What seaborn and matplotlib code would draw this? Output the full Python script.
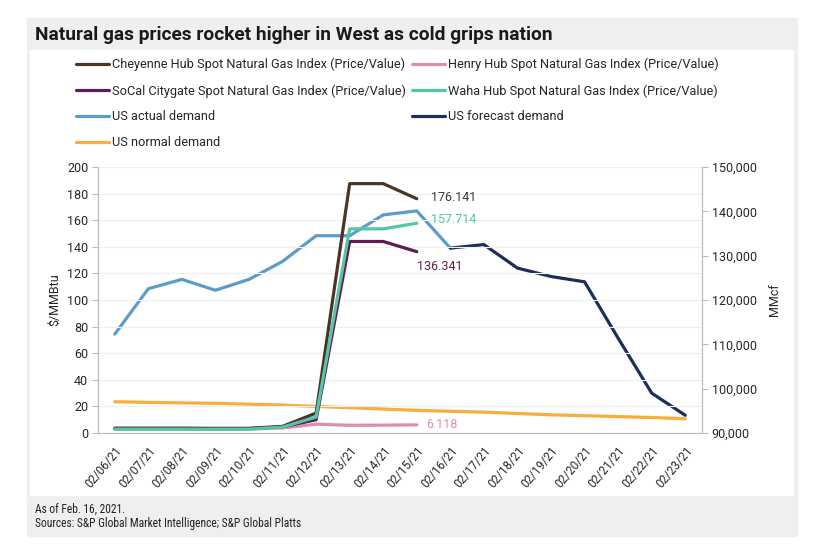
import numpy as np
import pandas as pd
import matplotlib
matplotlib.use("Agg")
import matplotlib.pyplot as plt
from matplotlib.patches import Rectangle
import seaborn as sns

sns.set_theme(style="white")
plt.rcParams['font.family'] = ['Roboto', 'DejaVu Sans']

# ===== Data =====
dates = ["02/06/21", "02/07/21", "02/08/21", "02/09/21", "02/10/21", "02/11/21",
         "02/12/21", "02/13/21", "02/14/21", "02/15/21", "02/16/21", "02/17/21",
         "02/18/21", "02/19/21", "02/20/21", "02/21/21", "02/22/21", "02/23/21"]

# prices, $/MMBtu (02/06 - 02/15)
cheyenne = [3.6, 3.6, 3.6, 3.5, 3.5, 5.0, 15.0, 187.5, 187.5, 176.141]
henry = [3.0, 3.0, 3.0, 3.0, 3.0, 3.8, 6.6, 5.8, 5.9, 6.118]
socal = [3.4, 3.4, 3.4, 3.3, 3.3, 4.6, 10.0, 144.0, 144.0, 136.341]
waha = [2.9, 2.9, 2.9, 2.9, 2.9, 4.4, 12.0, 153.5, 153.5, 157.714]

# demand, MMcf
actual_demand = [112300, 122550, 124650, 122200, 124650, 128700, 134500, 134500,
                 139200, 140100, 131700]
forecast_demand = [131700, 132500, 127200, 125300, 124100, 111400, 99000, 94000]
normal_demand = [97050, 96900, 96800, 96700, 96500, 96300, 96000, 95700, 95400,
                 95100, 94900, 94700, 94400, 94100, 93900, 93700, 93500, 93200]

colors = {
    "cheyenne": "#4b3526",
    "henry": "#dc8fa8",
    "socal": "#5e1d52",
    "waha": "#55c6a5",
    "actual": "#5b9cc9",
    "forecast": "#1d2e5a",
    "normal": "#f8ad3c",
}

n = len(dates)
pos = np.arange(n)
price_df = pd.DataFrame({"x": pos[:len(cheyenne)], "cheyenne": cheyenne,
                         "henry": henry, "socal": socal, "waha": waha})
actual_df = pd.DataFrame({"x": pos[:len(actual_demand)], "v": actual_demand})
forecast_df = pd.DataFrame({"x": pos[n - len(forecast_demand):], "v": forecast_demand})
normal_df = pd.DataFrame({"x": pos, "v": normal_demand})

# ===== Figure =====
fig = plt.figure(figsize=(8.4, 5.56), dpi=100)
W, H = 840, 556

def box(x0, y0, x1, y1, color):
    fig.patches.append(Rectangle((x0 / W, 1 - y1 / H), (x1 - x0) / W, (y1 - y0) / H,
                                 transform=fig.transFigure, color=color, zorder=-10))

box(27, 18, 797, 536, "#efefef")
box(30, 50, 793, 495, "white")

fig.text(35 / W, 1 - 35 / H, "Natural gas prices rocket higher in West as cold grips nation",
         fontsize=13.8, fontweight="bold", color="#1a1a1a", va="center", ha="left")
foot_font = ['Liberation Sans Narrow', 'Roboto Condensed', 'Roboto']
fig.text(35 / W, 1 - 509 / H, "As of Feb. 16, 2021.", fontsize=8.3, color="#222222",
         va="center", family=foot_font)
fig.text(35 / W, 1 - 523 / H, "Sources: S&P Global Market Intelligence; S&P Global Platts",
         fontsize=8.3, color="#222222", va="center", family=foot_font)

ax = fig.add_axes([98 / W, 1 - 433 / H, (702 - 98) / W, (433 - 167) / H])
ax2 = ax.twinx()
ax.set_zorder(ax2.get_zorder() + 1)
ax.patch.set_visible(False)

lw = 2.3
sns.lineplot(data=normal_df, x="x", y="v", ax=ax2, color=colors["normal"], lw=lw)
sns.lineplot(data=actual_df, x="x", y="v", ax=ax2, color=colors["actual"], lw=lw)
sns.lineplot(data=forecast_df, x="x", y="v", ax=ax2, color=colors["forecast"], lw=lw)
for key in ["henry", "socal", "cheyenne", "waha"]:
    sns.lineplot(data=price_df, x="x", y=key, ax=ax, color=colors[key], lw=lw)

# end labels
last = len(cheyenne) - 1
ax.annotate(f"{cheyenne[-1]:.3f}", (last, cheyenne[-1]), xytext=(10, 1),
            textcoords="offset points", color="#3a3a3a", fontsize=9, va="center")
ax.annotate(f"{waha[-1]:.3f}", (last, waha[-1]), xytext=(10, 3),
            textcoords="offset points", color=colors["waha"], fontsize=9, va="center")
ax.annotate(f"{socal[-1]:.3f}", (last, socal[-1]), xytext=(0, -11),
            textcoords="offset points", color=colors["socal"], fontsize=9, va="center")
ax.annotate(f"{henry[-1]:.3f}", (last, henry[-1]), xytext=(7, 0),
            textcoords="offset points", color=colors["henry"], fontsize=9, va="center")

# axes styling
ax.set_xlim(-0.5, n - 0.5)
ax.set_ylim(0, 200)
ax.set_yticks(np.arange(0, 201, 20))
ax2.set_ylim(90000, 150000)
ax2.set_yticks(np.arange(90000, 150001, 10000))
ax2.set_yticklabels([f"{v:,}" for v in range(90000, 150001, 10000)])

ax.set_xticks(pos)
ax.set_xticklabels(dates, rotation=50, ha="right", rotation_mode="anchor", fontsize=8.5)
ax.set_xticks(np.arange(-0.5, n, 1), minor=True)
ax.tick_params(axis="x", which="major", length=0, pad=8)
ax.tick_params(axis="x", which="minor", length=4, color="#bbbbbb", width=0.8)
ax.tick_params(axis="y", length=4, color="#bbbbbb", width=0.8, labelsize=9, pad=3)
ax2.tick_params(axis="y", length=4, color="#bbbbbb", width=0.8, labelsize=9, pad=3)
ax2.tick_params(axis="x", length=0)

ax.set_xlabel("")
ax.set_ylabel("$/MMBtu", fontsize=9, labelpad=4)
ax2.set_xlabel("")
ax2.set_ylabel("MMcf", fontsize=9, labelpad=8)

ax.grid(axis="y", color="#efefef", lw=0.8)
ax.set_axisbelow(True)
for a in (ax, ax2):
    a.spines["top"].set_visible(False)
    for s in ["left", "right", "bottom"]:
        a.spines[s].set_color("#bbbbbb")
        a.spines[s].set_linewidth(0.8)

# legend
h = {k: plt.Line2D([], [], color=c, lw=2.3) for k, c in colors.items()}
labels = {
    "cheyenne": "Cheyenne Hub Spot Natural Gas Index (Price/Value)",
    "henry": "Henry Hub Spot Natural Gas Index (Price/Value)",
    "socal": "SoCal Citygate Spot Natural Gas Index (Price/Value)",
    "waha": "Waha Hub Spot Natural Gas Index (Price/Value)",
    "actual": "US actual demand",
    "forecast": "US forecast demand",
    "normal": "US normal demand",
}
order = ["cheyenne", "socal", "actual", "normal", "henry", "waha", "forecast"]
fig.legend([h[k] for k in order], [labels[k] for k in order], ncol=2,
           loc="upper left", bbox_to_anchor=(76 / W, 1 - 58 / H), frameon=False,
           fontsize=9.2, handlelength=2.6, handletextpad=0.2, columnspacing=0.5,
           labelspacing=1.0, borderaxespad=0, borderpad=0)

fig.savefig("out.png", dpi=100)
